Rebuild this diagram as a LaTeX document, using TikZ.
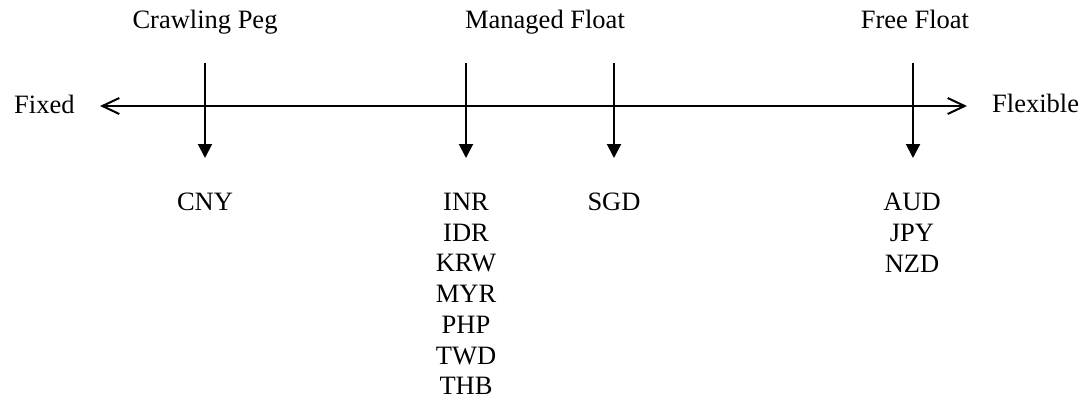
\documentclass[tikz,border=0pt]{standalone}
\usepackage{fontspec}
\setmainfont{Liberation Serif}
\usetikzlibrary{arrows.meta}
\begin{document}
\begin{tikzpicture}[x=1pt,y=-1pt,
  lbl/.style={inner sep=0pt,font=\fontsize{26.5pt}{30.7pt}\selectfont},
  cur/.style={lbl,align=center,anchor=north},
  axis/.style={line width=2pt,{Straight Barb[length=17pt,width=16pt,line width=2pt]}-{Straight Barb[length=17pt,width=16pt,line width=2pt]}},
  drop/.style={line width=2pt,-{Triangle[length=14pt,width=14pt]}}]
\useasboundingbox (0,0) rectangle (1087,400);
% axis
\node[lbl,anchor=base west] (fixed) at (14,113) {Fixed};
\node[lbl,anchor=base west] (flex) at (992,112) {Flexible};
\coordinate (axl) at (100,106);
\coordinate (axr) at (967,106);
\draw[axis] (axl) -- (axr);
% regime labels
\node[lbl,anchor=base] (crawl) at (205,28) {Crawling Peg};
\node[lbl,anchor=base] (managed) at (545,28) {Managed Float};
\node[lbl,anchor=base] (free) at (915,28) {Free Float};
% arrows
\coordinate (t1) at (205,63); \coordinate (b1) at (205,158);
\coordinate (t2) at (466,63); \coordinate (b2) at (466,158);
\coordinate (t3) at (614,63); \coordinate (b3) at (614,158);
\coordinate (t4) at (913,63); \coordinate (b4) at (913,158);
\draw[drop] (t1) -- (b1);
\draw[drop] (t2) -- (b2);
\draw[drop] (t3) -- (b3);
\draw[drop] (t4) -- (b4);
% currencies
\node[cur] (cny) at (205,193) {CNY};
\node[cur] (mf) at (466,193) {INR\\IDR\\KRW\\MYR\\PHP\\TWD\\THB};
\node[cur] (sgd) at (614,193) {SGD};
\node[cur] (ff) at (912,193) {AUD\\JPY\\NZD};
\end{tikzpicture}
\end{document}
